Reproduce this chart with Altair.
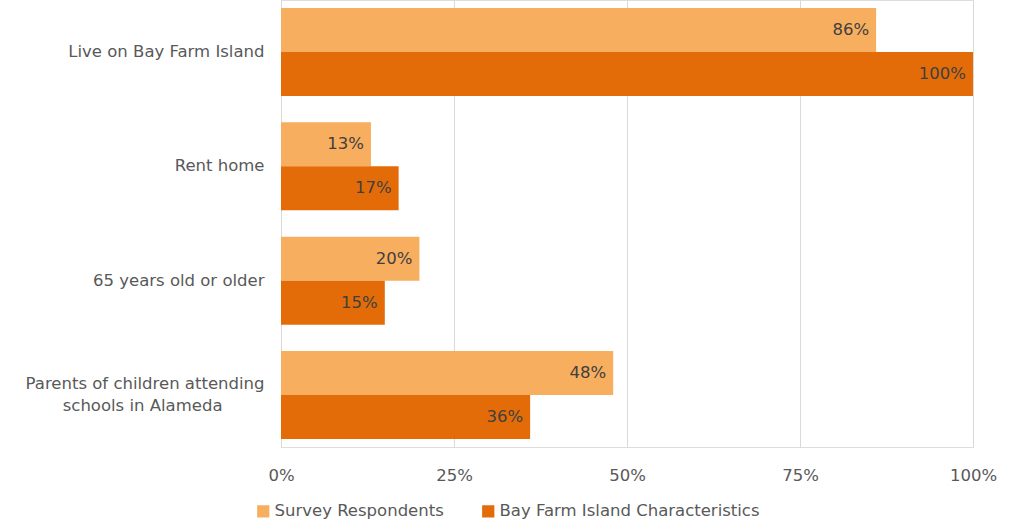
import altair as alt
import pandas as pd

categories = ["Live on Bay Farm Island", "Rent home", "65 years old or older",
              "Parents of children attending schools in Alameda"]
series = ["Survey Respondents", "Bay Farm Island Characteristics"]
survey = [0.86, 0.13, 0.20, 0.48]
characteristics = [1.00, 0.17, 0.15, 0.36]
colors = ["#F8AE5F", "#E36C09"]

rows = []
for c, s, b in zip(categories, survey, characteristics):
    rows.append({"cat": c, "series": series[0], "val": s})
    rows.append({"cat": c, "series": series[1], "val": b})
df = pd.DataFrame(rows)

FONT = "DejaVu Sans"
GREY = "#595959"
FS = 16.5
LONG = "Parents of children attending schools in Alameda"
LINE2 = "schools in Alameda" + "\u00a0" * 8 + "\u200b"

y_enc = alt.Y("cat:N", sort=categories,
              scale=alt.Scale(paddingInner=0.23, paddingOuter=0.07),
              axis=alt.Axis(title=None, domain=False, ticks=False, labelPadding=17,
                            labelFontSize=FS, labelColor=GREY, labelFont=FONT,
                            labelLimit=300, labelLineHeight=22,
                            labelOffset={"condition": {"test": f"datum.value == '{LONG}'", "value": -11}, "value": 0},
                            labelExpr=f"datum.value == '{LONG}' ? ['Parents of children attending', '{LINE2}'] : datum.value"))
yoff = alt.YOffset("series:N", sort=series, scale=alt.Scale(domain=series, paddingInner=0, paddingOuter=0))
x_enc = alt.X("val:Q", scale=alt.Scale(domain=[0, 1], nice=False, zero=True),
              axis=alt.Axis(title=None, format=".0%", values=[0, 0.25, 0.5, 0.75, 1.0],
                            domain=False, ticks=False, grid=True, gridColor="#D9D9D9",
                            labelFlush=False,
                            labelPadding=20, labelFontSize=FS, labelColor=GREY,
                            labelFont=FONT))

bars = alt.Chart(df).mark_bar(cornerRadius=0).encode(
    y=y_enc, yOffset=yoff, x=x_enc,
    color=alt.Color("series:N", sort=series,
                    scale=alt.Scale(domain=series, range=colors),
                    legend=alt.Legend(title=None, orient="none", legendX=-26, legendY=503,
                                      direction="horizontal", symbolType="square",
                                      symbolSize=150, labelFontSize=FS, labelColor=GREY,
                                      labelFont=FONT, columnPadding=36, labelOffset=3,
                                      labelLimit=400, symbolStrokeWidth=0))
)

labels = alt.Chart(df).mark_text(align="right", baseline="middle", dx=-7,
                                 fontSize=FS, color="#404040", font=FONT).encode(
    y=alt.Y("cat:N", sort=categories), yOffset=yoff,
    x=alt.X("val:Q"),
    text=alt.Text("val:Q", format=".0%")
)

chart = alt.layer(bars, labels).properties(
    width=692, height=447,
    autosize=alt.AutoSizeParams(type="none"),
    padding={"left": 281, "top": 0, "right": 36, "bottom": 76},
).configure_view(stroke=None).configure(background="white")

chart.save("out.html", embed_options={"renderer": "svg", "actions": False})
